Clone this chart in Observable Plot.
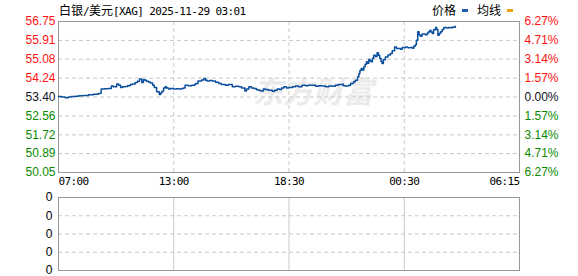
<!DOCTYPE html>
<html><head><meta charset="utf-8">
<script src="https://cdn.jsdelivr.net/npm/d3@7"></script>
<script src="https://cdn.jsdelivr.net/npm/@observablehq/plot@0.6"></script>
<style>
body{margin:0;background:#fff;}
#wrap{position:relative;width:578px;height:276px;overflow:hidden;background:#fff;}
.hdr{position:absolute;top:2px;font-size:12px;line-height:16px;color:#000;white-space:nowrap;}
.cjk{font-family:"Noto Sans CJK SC",sans-serif;font-size:12px;}
.mono{font-family:"DejaVu Sans Mono",monospace;font-size:11px;letter-spacing:-0.6px;}
.dash{position:absolute;width:6px;height:3px;}
#main,#sub{position:absolute;left:0;}
#main{top:0;} #sub{top:193px;}
</style></head><body>
<div id="wrap">
  <div id="main"></div>
  <div id="sub"></div>
  <div class="hdr" style="left:59px;"><span class="cjk">白银</span><span class="mono">/</span><span class="cjk">美元</span><span class="mono">[XAG] 2025-11-29 03:01</span></div>
  <div class="hdr cjk" style="left:432px;">价格</div>
  <div class="dash" style="left:462px;top:9px;background:#1d5fae;"></div>
  <div class="hdr cjk" style="left:477px;">均线</div>
  <div class="dash" style="left:507px;top:9px;background:#e8a317;"></div>
</div>
<script>
// position index along the session axis (0 = 07:00, 1395 = 06:15)
const idx = [0,9,20,30,39,51,61,76,91,106,121,127,129,139,151,160,166,176,182,188,194,202,209,217,224,232,239,245,252,257,262,266,272,278,285,290,297,305,309,313,318,323,327,333,339,348,357,366,373,378,383,393,403,412,415,422,425,433,440,445,450,457,465,475,485,493,505,514,526,535,546,554,564,569,576,584,591,599,605,611,620,626,635,647,654,662,669,675,682,690,697,708,717,726,737,747,756,768,778,787,798,808,818,829,838,847,858,862,868,878,884,893,898,905,909,912,916,920,924,928,932,935,939,943,946,950,954,959,964,968,972,976,979,983,989,997,1004,1010,1017,1023,1030,1035,1040,1045,1050,1057,1065,1071,1075,1080,1083,1087,1091,1095,1100,1105,1110,1116,1120,1124,1127,1131,1135,1141,1144,1148,1152,1156,1161,1166,1174,1181,1186,1192,1195,1201];
const price = [53.42,53.40,53.37,53.40,53.42,53.43,53.45,53.47,53.50,53.52,53.55,53.57,53.75,53.77,53.78,53.89,53.86,53.98,53.92,53.82,53.86,53.87,53.90,53.95,53.98,54.04,54.10,54.20,54.04,54.16,54.14,54.10,54.07,54.02,53.92,53.82,53.63,53.51,53.58,53.66,53.80,53.86,53.80,53.75,53.78,53.75,53.77,53.76,53.78,53.80,53.92,53.90,53.92,53.95,54.00,54.11,54.11,54.15,54.22,54.14,54.11,54.13,54.11,54.05,54.00,53.95,53.92,53.95,53.85,53.88,53.85,53.80,53.67,53.75,53.85,53.80,53.78,53.72,53.70,53.67,53.75,53.73,53.70,53.66,53.70,53.75,53.73,53.80,53.85,53.80,53.82,53.86,53.89,53.85,53.92,53.90,53.92,53.92,53.88,53.90,53.89,53.86,53.89,53.88,53.92,53.95,53.97,53.90,53.89,53.92,54.00,54.08,54.14,54.30,54.44,54.58,54.66,54.60,54.74,54.85,54.96,54.90,55.06,55.00,54.96,55.12,55.25,55.20,55.36,55.25,55.11,54.98,54.89,55.05,55.18,55.26,55.33,55.45,55.62,55.55,55.55,55.52,55.60,55.58,55.62,55.58,55.60,55.56,55.65,55.72,55.92,56.29,56.15,56.10,56.20,56.19,56.16,56.24,56.30,56.36,56.28,56.22,56.38,56.48,56.40,56.14,56.22,56.29,56.40,56.48,56.46,56.48,56.47,56.51,56.50,56.54];

const yTicks = [56.75,55.91,55.08,54.24,53.40,52.56,51.72,50.89,50.05];
const pctLabels = ["6.27%","4.71%","3.14%","1.57%","0.00%","1.57%","3.14%","4.71%","6.27%"];
const timeLabels = ["07:00","13:00","18:30","00:30","06:15"];
const timePos = [0,348.75,697.5,1046.25,1395];
const volTicks = [0,1,2,3,4];
const volLabels = ["0","0","0","0","0"];

const data = idx.map((i,k)=>({i, p: price[k]}));
const RED="#ff1010", DARK="#101020", GREEN="#0a8a00";
const grid = {stroke:"#c8c8c8", strokeOpacity:1, strokeDasharray:"4,3"};
const lab = d => d.toFixed(2);
const pct = d => pctLabels[yTicks.indexOf(d)];
const tl = d => timeLabels[timePos.indexOf(d)];
const ax = {tickSize:0, label:null};
const tx = {tickSize:0, tickPadding:5, label:null, fontFamily:"DejaVu Sans Mono", fontSize:11, fill:"#000", tickFormat:tl};

const main = Plot.plot({
  width:578, height:193, marginTop:21, marginBottom:21, marginLeft:58, marginRight:59,
  style:{fontFamily:"Liberation Sans, Arial, sans-serif", fontSize:"12px", background:"transparent", overflow:"visible"},
  x:{domain:[0,1395]},
  y:{domain:[50.05,56.75]},
  marks:[
    Plot.text(["东方财富"], {frameAnchor:"middle", dx:24, dy:-4, fontSize:30, fontWeight:"bold", fontStyle:"italic", fill:"#ebebeb", fontFamily:"Noto Sans CJK SC"}),
    Plot.gridY(yTicks.slice(1,-1), grid),
    Plot.gridX(timePos.slice(1,-1), grid),
    Plot.frame({stroke:"#999"}),
    Plot.line(data, {x:"i", y:"p", stroke:"#0b4f9e", strokeWidth:1.5, curve:"step-after"}),
    Plot.axisY(yTicks.slice(0,4), {...ax, anchor:"left", tickPadding:3, fill:RED, tickFormat:lab}),
    Plot.axisY(yTicks.slice(4,5), {...ax, anchor:"left", tickPadding:3, fill:DARK, tickFormat:lab}),
    Plot.axisY(yTicks.slice(5), {...ax, anchor:"left", tickPadding:3, fill:GREEN, tickFormat:lab}),
    Plot.axisY(yTicks.slice(0,4), {...ax, anchor:"right", tickPadding:5, fill:RED, tickFormat:pct}),
    Plot.axisY(yTicks.slice(4,5), {...ax, anchor:"right", tickPadding:5, fill:DARK, tickFormat:pct}),
    Plot.axisY(yTicks.slice(5), {...ax, anchor:"right", tickPadding:5, fill:GREEN, tickFormat:pct}),
    Plot.axisX(timePos.slice(0,1), {...tx, textAnchor:"start"}),
    Plot.axisX(timePos.slice(1,4), {...tx}),
    Plot.axisX(timePos.slice(4), {...tx, textAnchor:"end"})
  ]
});
d3.select(main).selectAll('g[aria-label="x-axis tick label"] text').attr("letter-spacing","-0.6");
document.getElementById("main").appendChild(main);

const sub = Plot.plot({
  width:578, height:83, marginTop:4, marginBottom:6, marginLeft:58, marginRight:59,
  style:{fontFamily:"Liberation Sans, Arial, sans-serif", fontSize:"12px", background:"transparent", overflow:"visible"},
  x:{domain:[0,1395], axis:null},
  y:{domain:[0,4]},
  marks:[
    Plot.gridY(volTicks.slice(1,-1), grid),
    Plot.gridX(timePos.slice(1,-1), {stroke:"#c8c8c8", strokeOpacity:1}),
    Plot.frame({stroke:"#999"}),
    Plot.axisY(volTicks, {...ax, anchor:"left", tickPadding:6, fill:"#000", tickFormat:d=>volLabels[volTicks.indexOf(d)]})
  ]
});
document.getElementById("sub").appendChild(sub);
</script>
</body></html>
